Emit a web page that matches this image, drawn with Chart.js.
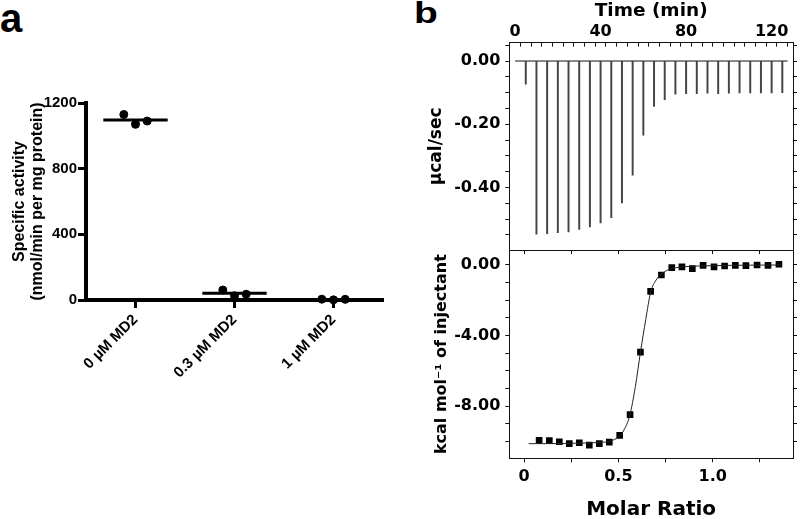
<!DOCTYPE html>
<html>
<head>
<meta charset="utf-8">
<script src="https://cdn.jsdelivr.net/npm/chart.js@4.4.1/dist/chart.umd.min.js"></script>
<style>
    html, body { margin: 0; padding: 0; background: #fff; overflow: hidden; }
    #wrap { position: relative; width: 800px; height: 519px; }
    canvas { position: absolute; }
    .panel { position: absolute; color: #000; transform-origin: left top; }
</style>
</head>
<body>
<div id="wrap">
    <div class="panel" style="left:0; top:-2px; font:bold 40px/1 'Liberation Sans', Arial, sans-serif;">a</div>
    <div class="panel" style="left:414px; top:-2px; font:bold 30px/1 'Liberation Sans', Arial, sans-serif; transform:scaleX(1.3);">b</div>
    <canvas id="chartA" style="left:0; top:0;" width="400" height="519"></canvas>
    <canvas id="chartT" style="left:400px; top:0;" width="400" height="252"></canvas>
    <canvas id="chartB" style="left:400px; top:248px;" width="400" height="275"></canvas>
</div>
<script>
// ---- panel a: specific activity ----
const groups = ['0 µM MD2', '0.3 µM MD2', '1 µM MD2'];
const replicates = [
    [1130, 1070, 1090],
    [61, 26, 35],
    [5, 1, 4]
];
const activityTicks = [0, 400, 800, 1200];

// ---- panel b top: raw ITC trace ----
const injTime = [5, 10, 15, 20, 25, 30, 35, 40, 45, 50, 55, 60, 65, 70, 75, 80, 85, 90, 95, 100, 105, 110, 115, 120, 125];
const injPeak = [-0.073, -0.548, -0.546, -0.543, -0.541, -0.533, -0.525, -0.512, -0.496, -0.449, -0.361, -0.235, -0.144,
    -0.122, -0.105, -0.103, -0.103, -0.102, -0.103, -0.102, -0.101, -0.101, -0.101, -0.101, -0.100];
const traceStart = 0, traceEnd = 127.5;
const timeLabels = [0, 40, 80, 120];
const powerLabels = [0, -0.2, -0.4];

// ---- panel b bottom: integrated heats ----
const molarRatio = [0.080, 0.134, 0.187, 0.240, 0.293, 0.346, 0.399, 0.452, 0.507, 0.562, 0.617, 0.671,
    0.728, 0.783, 0.837, 0.892, 0.949, 1.007, 1.063, 1.120, 1.176, 1.235, 1.293, 1.351];
const heat = [-9.94, -9.96, -10.02, -10.13, -10.08, -10.21, -10.13, -10.04, -9.66, -8.48, -4.94, -1.50,
    -0.57, -0.15, -0.11, -0.21, -0.02, -0.11, -0.06, -0.02, -0.04, 0.00, -0.02, 0.04];
const fitRatio = [0.025, 0.1, 0.2, 0.3, 0.4, 0.45, 0.5, 0.53, 0.56, 0.59, 0.617, 0.645, 0.671, 0.7, 0.73, 0.77, 0.85, 1.0, 1.2, 1.366];
const fitHeat = [-10.13, -10.13, -10.12, -10.1, -10.06, -10.0, -9.75, -9.35, -8.55, -6.9, -4.95, -3.1, -1.55, -0.85, -0.5, -0.25, -0.1, -0.04, -0.01, 0.0];
const heatLabels = [0, -4, -8];
const ratioLabels = [0, 0.5, 1.0];

const SANS = "'Liberation Sans', Arial, sans-serif";
const DEJA = "'DejaVu Sans', sans-serif";

const steps = (a, b, s) => {
    const n = Math.round((b - a) / s);
    return Array.from({length: n + 1}, (_, i) => +(a + i * s).toFixed(6));
};

// Grafik a
const mean = arr => arr.reduce((s, v) => s + v, 0) / arr.length;
const jitter = [-0.118, 0, 0.118];
const dots = replicates.flatMap((vals, i) => vals.map((v, j) => ({x: i + 0.5 + jitter[j], y: v})));

new Chart(document.getElementById('chartA'), {
    type: 'scatter',
    data: {
        datasets: [
            ...replicates.map((vals, i) => ({
                type: 'line',
                data: [{x: i + 0.5 - 0.325, y: mean(vals)}, {x: i + 0.5 + 0.325, y: mean(vals)}],
                borderColor: '#000',
                borderWidth: 3,
                pointRadius: 0,
                clip: false
            })),
            {
                data: dots,
                backgroundColor: '#000',
                borderColor: '#000',
                pointRadius: 4,
                clip: false
            }
        ]
    },
    options: {
        responsive: false,
        animation: false,
        layout: { padding: { left: 0, right: 17, top: 103, bottom: 0 } },
        plugins: { legend: { display: false }, tooltip: { enabled: false } },
        scales: {
            x: {
                type: 'linear', min: 0, max: 3,
                afterBuildTicks: s => { s.ticks = groups.map((g, i) => ({value: i + 0.5})); },
                afterFit: s => { s.height = 219; },
                ticks: {
                    autoSkip: false, minRotation: 45, maxRotation: 45, padding: 3, color: '#000',
                    font: { family: SANS, size: 15, weight: 'bold' },
                    callback: (v, i) => groups[i]
                },
                grid: { drawOnChartArea: false, tickLength: 8, tickWidth: 3, tickColor: '#000' },
                border: { width: 4, color: '#000' }
            },
            y: {
                type: 'linear', min: 0, max: 1200,
                afterBuildTicks: s => { s.ticks = activityTicks.map(v => ({value: v})); },
                afterFit: s => { s.width = 86; },
                ticks: {
                    padding: 1, color: '#000',
                    font: { family: SANS, size: 15, weight: 'bold' },
                    callback: v => String(v)
                },
                grid: { drawOnChartArea: false, tickLength: 8, tickWidth: 3, tickColor: '#000' },
                border: { width: 4, color: '#000' },
                title: {
                    display: true,
                    text: ['Specific activity', '(nmol/min per mg protein)'],
                    color: '#000',
                    font: { family: SANS, size: 16, weight: 'bold', lineHeight: 1.125 },
                    padding: { top: 11, bottom: 0 }
                }
            }
        }
    }
});

// framed axis used by both ITC plots
function frameAxis(o) {
    const horizontal = o.position === 'top' || o.position === 'bottom';
    return {
        type: 'linear',
        position: o.position,
        min: o.min,
        max: o.max,
        offset: false,
        afterBuildTicks: s => { s.ticks = o.ticks.map(v => ({value: v})); },
        afterFit: s => {
            if (horizontal) s.height = o.size; else s.width = o.size;
            // keep the plot frame fixed: no extra room for edge labels
            s.paddingTop = s.paddingBottom = s.paddingLeft = s.paddingRight = 0;
        },
        ticks: {
            display: !!o.labels,
            autoSkip: false, maxRotation: 0, minRotation: 0, padding: 5, color: '#000',
            font: { family: DEJA, size: 16, weight: 'bold' },
            callback: v => (o.labels && o.labels.some(l => Math.abs(l - v) < 1e-9)) ? o.fmt(v) : ''
        },
        grid: {
            drawOnChartArea: false,
            drawTicks: o.tickLen !== 0,
            tickLength: o.tickLen,
            tickWidth: 1,
            tickColor: '#111'
        },
        border: { display: true, color: '#111', width: 1 },
        title: o.title || { display: false }
    };
}

const timeTicks = steps(0, 125, 5);
const powerTicks = steps(-0.55, 0.05, 0.05);
const ratioTicks = steps(0, 1.25, 0.25);
const heatTicks = steps(-10, 0, 1);

// Grafik b atas: thermogram
new Chart(document.getElementById('chartT'), {
    type: 'scatter',
    data: {
        datasets: [
            {
                type: 'line',
                data: [{x: traceStart, y: 0}, {x: traceEnd, y: 0}],
                borderColor: '#111',
                borderWidth: 1,
                pointRadius: 0
            },
            {
                type: 'bar',
                data: injTime.map((t, i) => ({x: t, y: injPeak[i]})),
                backgroundColor: '#444',
                barThickness: 1.3
            }
        ]
    },
    options: {
        responsive: false,
        animation: false,
        layout: { padding: 0, autoPadding: false },
        plugins: { legend: { display: false }, tooltip: { enabled: false } },
        scales: {
            x: frameAxis({
                position: 'top', min: -2.7, max: 130, ticks: timeTicks, labels: timeLabels,
                fmt: v => String(v), tickLen: -4, size: 42.7,
                title: { display: true, text: 'Time (min)', color: '#000',
                    font: { family: DEJA, size: 18.5, weight: 'bold' }, padding: { top: 0, bottom: 0 } }
            }),
            x2: frameAxis({ position: 'bottom', min: -2.7, max: 130, ticks: timeTicks, tickLen: 0, size: 2 }),
            y: frameAxis({
                position: 'left', min: -0.598, max: 0.058, ticks: powerTicks, labels: powerLabels,
                fmt: v => v.toFixed(2), tickLen: 4, size: 109.3,
                title: { display: true, text: 'µcal/sec', color: '#000',
                    font: { family: DEJA, size: 17, weight: 'bold' }, padding: { top: 26, bottom: 0 } }
            }),
            y2: frameAxis({ position: 'right', min: -0.598, max: 0.058, ticks: powerTicks, tickLen: 4, size: 7 })
        }
    }
});

// Grafik b bawah: integrated heats
new Chart(document.getElementById('chartB'), {
    type: 'scatter',
    data: {
        datasets: [
            {
                type: 'line',
                data: fitRatio.map((x, i) => ({x: x, y: fitHeat[i]})),
                borderColor: '#222',
                borderWidth: 1,
                pointRadius: 0,
                cubicInterpolationMode: 'monotone'
            },
            {
                data: molarRatio.map((x, i) => ({x: x, y: heat[i]})),
                pointStyle: 'rect',
                pointRadius: 4.7,
                backgroundColor: '#000',
                borderColor: '#000',
                borderWidth: 0
            }
        ]
    },
    options: {
        responsive: false,
        animation: false,
        layout: { padding: 0, autoPadding: false },
        plugins: { legend: { display: false }, tooltip: { enabled: false } },
        scales: {
            x: frameAxis({
                position: 'bottom', min: -0.078, max: 1.4255, ticks: ratioTicks, labels: ratioLabels,
                fmt: v => (v === 0 ? '0' : v.toFixed(1)), tickLen: 4, size: 64.7,
                title: { display: true, text: 'Molar Ratio', color: '#000',
                    font: { family: DEJA, size: 20, weight: 'bold' }, padding: { top: 0, bottom: 1 } }
            }),
            x2: frameAxis({ position: 'top', min: -0.078, max: 1.4255, ticks: ratioTicks, tickLen: -4, size: 2 }),
            y: frameAxis({
                position: 'left', min: -10.96, max: 0.85, ticks: heatTicks, labels: heatLabels,
                fmt: v => v.toFixed(2), tickLen: 4, size: 109.3,
                title: { display: true, text: 'kcal mol⁻¹ of injectant', color: '#000',
                    font: { family: DEJA, size: 16, weight: 'bold' }, padding: { top: 32, bottom: 0 } }
            }),
            y2: frameAxis({ position: 'right', min: -10.96, max: 0.85, ticks: heatTicks, tickLen: 4, size: 7 })
        }
    }
});
</script>
</body>
</html>
